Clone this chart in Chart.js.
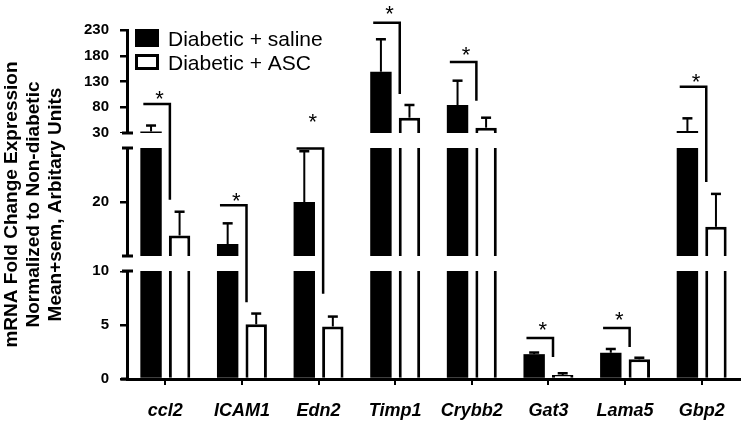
<!DOCTYPE html>
<html><head><meta charset="utf-8">
<script src="https://cdn.jsdelivr.net/npm/chart.js@4/dist/chart.umd.min.js"></script>
<style>html,body{margin:0;padding:0;background:#fff;}#wrap{width:747px;height:429px;}</style>
</head><body><div id="wrap"><canvas id="c" width="747" height="429"></canvas></div>
<script>
const categories = ['ccl2','ICAM1','Edn2','Timp1','Crybb2','Gat3','Lama5','Gbp2'];
const seriesLabels = ['Diabetic + saline','Diabetic + ASC'];
const salineMean = [33, 12.2, 20.0, 149, 84.4, 2.3, 2.43, 34];
const salineSem  = [11.5, 3.85, 9.4, 63, 47.2, 0.15, 0.35, 24.5];
const ascMean    = [13.8, 5.06, 4.86, 59.7, 40.3, 0.37, 1.82, 15.4];
const ascSem     = [4.4, 1.0, 0.92, 24.7, 19.4, 0.16, 0.15, 6.1];
const yTickValues = [0, 5, 10, 20, 30, 80, 130, 180, 230];
// significance brackets (in data units)
const bracketTop    = [86.3, 19.4, 29.9, 244, 167.9, 3.8, 4.72, 119.9];
const bracketBottom = [20.4, 7.1, 7.9, 105.7, 92.7, 2.04, 2.96, 23.7];
const starLevel     = [107.7, 21.3, 63, 272.7, 193.1, 5.1, 6.0, 140.7];
const yTitle = ['mRNA Fold Change Expression','Normalized to Non-diabetic','Mean+sem, Arbitary Units'];

const FONT = "'Liberation Sans', Arial, sans-serif";
// broken-axis layout: value ranges and their fraction of plot height
const SEGMENTS = [
  {v0:0,  v1:10,  f0:0,       f1:108/349},
  {v0:10, v1:30,  f0:123/349, f1:231/349},
  {v0:30, v1:230, f0:246/349, f1:1}
];
function toFrac(v){
  const s = v <= 10 ? SEGMENTS[0] : (v < 30 ? SEGMENTS[1] : SEGMENTS[2]);
  return s.f0 + (v - s.v0) / (s.v1 - s.v0) * (s.f1 - s.f0);
}
class BrokenLinearScale extends Chart.LinearScale {
  getPixelForValue(v){ return v === null ? NaN : this.getPixelForDecimal(toFrac(v)); }
  getValueForPixel(p){
    const f = this.getDecimalForPixel(p);
    for (const s of SEGMENTS) if (f >= s.f0 && f <= s.f1) return s.v0 + (f - s.f0)/(s.f1 - s.f0)*(s.v1 - s.v0);
    return NaN;
  }
  buildTicks(){ this.start = this.min; this.end = this.max; return yTickValues.map(v => ({value:v})); }
}
BrokenLinearScale.id = 'brokenLinear';
BrokenLinearScale.defaults = Chart.LinearScale.defaults;
Chart.register(BrokenLinearScale);

const decor = {
  id: 'decor',
  afterDraw(chart){
    const ctx = chart.ctx, ys = chart.scales.y, a = chart.chartArea;
    ctx.save();
    // axis breaks
    ctx.fillStyle = '#fff';
    const caps = [];
    for (let i = 0; i < 2; i++){
      const yA = ys.getPixelForDecimal(SEGMENTS[i].f1);
      const yB = ys.getPixelForDecimal(SEGMENTS[i+1].f0);
      ctx.fillRect(a.left - 8, yB, a.right - a.left + 16, yA - yB);
      caps.push(yA, yB);
    }
    ctx.strokeStyle = '#000'; ctx.lineWidth = 3; ctx.lineCap = 'butt';
    ctx.beginPath();
    caps.forEach(y => { ctx.moveTo(a.left - 5, y); ctx.lineTo(a.left + 6, y); });
    ctx.moveTo(a.left - 6, a.bottom); ctx.lineTo(a.left + 1, a.bottom);
    ctx.stroke();
    // error bars
    const sems = [salineSem, ascSem], means = [salineMean, ascMean];
    for (let d = 0; d < 2; d++){
      const meta = chart.getDatasetMeta(d);
      meta.data.forEach((el, j) => {
        const yt = ys.getPixelForValue(means[d][j] + sems[d][j]);
        ctx.lineWidth = 2;
        ctx.beginPath(); ctx.moveTo(el.x, el.y); ctx.lineTo(el.x, yt); ctx.stroke();
        ctx.lineWidth = 2.5;
        ctx.beginPath(); ctx.moveTo(el.x - 5, yt); ctx.lineTo(el.x + 5, yt); ctx.stroke();
      });
    }
    // significance brackets
    const m0 = chart.getDatasetMeta(0), m1 = chart.getDatasetMeta(1);
    ctx.lineWidth = 2.5; ctx.lineJoin = 'miter';
    ctx.fillStyle = '#000';
    ctx.font = '22px ' + FONT; ctx.textAlign = 'center'; ctx.textBaseline = 'alphabetic';
    categories.forEach((c, j) => {
      const b0 = m0.data[j], b1 = m1.data[j];
      const xL = b0.x - b0.width/2 + 3, xR = b1.x - b1.width/2 + 1;
      const yT = ys.getPixelForValue(bracketTop[j]), yB = ys.getPixelForValue(bracketBottom[j]);
      ctx.beginPath(); ctx.moveTo(xL, yT); ctx.lineTo(xR, yT); ctx.lineTo(xR, yB); ctx.stroke();
      const ys2 = ys.getPixelForValue(starLevel[j]);
      ctx.fillText('*', (xL + xR)/2 + 3, ys2 + 0.58*22);
    });
    // legend
    const ds = chart.data.datasets;
    const lx = a.left + 8, rows = [29, 54];
    ds.forEach((d, i) => {
      const y = rows[i];
      if (i === 0){ ctx.fillStyle = d.backgroundColor; ctx.fillRect(lx, y, 24, 18); }
      else { ctx.fillStyle = '#fff'; ctx.fillRect(lx, y, 24, 16); ctx.lineWidth = 3; ctx.strokeRect(lx + 1.5, y + 1.5, 21, 13); }
      ctx.fillStyle = '#000'; ctx.font = '21px ' + FONT; ctx.textAlign = 'left'; ctx.textBaseline = 'alphabetic';
      ctx.fillText(d.label, lx + 33, [46, 70][i]);
    });
    ctx.restore();
  }
};

new Chart(document.getElementById('c'), {
  type: 'bar',
  data: {
    labels: categories,
    datasets: [
      {label: seriesLabels[0], data: salineMean, backgroundColor: '#000', borderColor: '#000', borderWidth: 0},
      {label: seriesLabels[1], data: ascMean, backgroundColor: '#fff', borderColor: '#000', borderWidth: 3}
    ]
  },
  options: {
    responsive: false, animation: false, devicePixelRatio: 1,
    categoryPercentage: 0.745, barPercentage: 0.75,
    layout: {padding: {left: 0, top: 30, right: 7, bottom: 0}},
    plugins: {legend: {display: false}, tooltip: {enabled: false}},
    scales: {
      x: {
        type: 'category', offset: true,
        grid: {display: true, drawOnChartArea: false, offset: false, tickLength: 6, color: '#000', lineWidth: 2},
        border: {display: true, color: '#000', width: 3},
        ticks: {color: '#000', font: {family: FONT, size: 18, weight: 'bold', style: 'italic'}, padding: 15, maxRotation: 0, autoSkip: false},
        afterFit(s){ s.height = 50; }
      },
      y: {
        type: 'brokenLinear', min: 0, max: 230,
        grid: {drawOnChartArea: false, tickLength: 7, color: '#000', lineWidth: 2.5},
        border: {display: true, color: '#000', width: 3},
        ticks: {autoSkip: false, color: '#000', font: {family: FONT, size: 15, weight: 'bold'}, padding: 11, callback: v => String(v)},
        title: {display: true, text: yTitle, color: '#000', font: {family: FONT, size: 19, weight: 'bold', lineHeight: 22/19}, padding: {top: 1, bottom: 0}},
        afterFit(s){ s.width = 127; }
      }
    }
  },
  plugins: [decor]
});
</script></body></html>
